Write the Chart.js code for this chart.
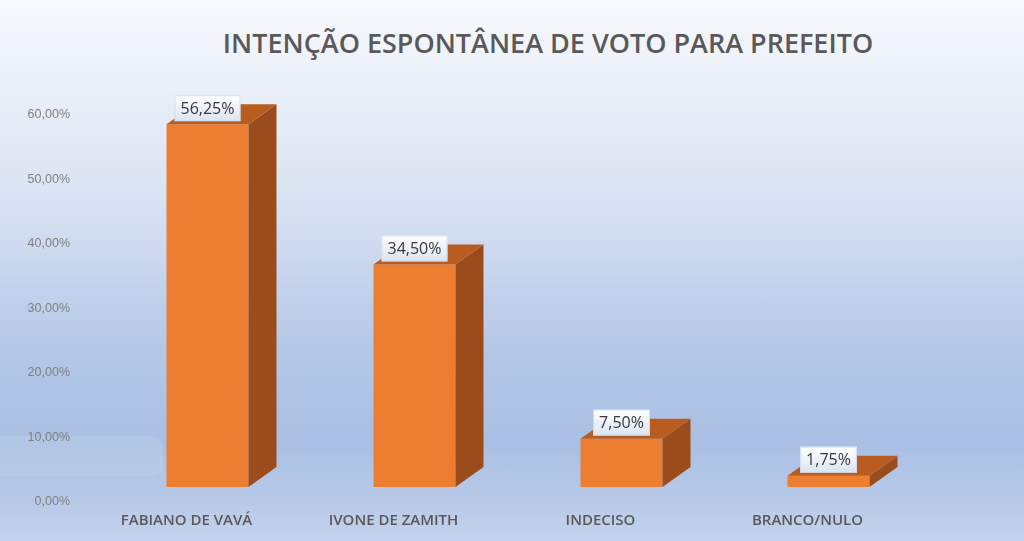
<!DOCTYPE html>
<html>
<head>
<meta charset="utf-8">
<script src="https://cdn.jsdelivr.net/npm/chart.js@4"></script>
<style>
  html, body { margin: 0; padding: 0; }
  #wrap {
    position: relative; width: 1024px; height: 541px; overflow: hidden;
    background: linear-gradient(to bottom, #f7f9fd 0%, #dbe4f3 35%, #b4c7e7 65%, #a9bfe3 82%, #c3d2ec 100%);
  }
  #title {
    position: absolute; left: 0; width: 1096px; top: 24px; text-align: center;
    font: 600 27px "Open Sans", sans-serif; color: #595959;
  }
  #ghost {
    position: absolute; left: 0; top: 436px; width: 163px; height: 40px;
    background: rgba(255,255,255,0.1); border-radius: 0 10px 10px 0;
  }
  canvas { position: absolute; left: 0; top: 0; }
</style>
</head>
<body>
<div id="wrap">
  <div id="ghost"></div>
  <div id="title">INTENÇÃO ESPONTÂNEA DE VOTO PARA PREFEITO</div>
  <canvas id="chart" width="1024" height="541"></canvas>
</div>
<script>
// chart values
const categories = ['FABIANO DE VAVÁ', 'IVONE DE ZAMITH', 'INDECISO', 'BRANCO/NULO'];
const votes = [56.25, 34.5, 7.5, 1.75];
const yTicks = [0, 10, 20, 30, 40, 50, 60];

const fmt = v => v.toFixed(2).replace('.', ',') + '%';

// draws the depth (side + top faces) and the value boxes
const bars3d = {
  id: 'bars3d',
  afterDatasetsDraw(chart) {
    const ctx = chart.ctx;
    const meta = chart.getDatasetMeta(0);
    const dx = 28, dy = -20;
    ctx.save();
    meta.data.forEach((bar, i) => {
      const half = bar.width / 2;
      const l = bar.x - half, r = bar.x + half, t = bar.y, b = bar.base;
      // side
      ctx.fillStyle = '#9b4c1c';
      ctx.beginPath();
      ctx.moveTo(r, t); ctx.lineTo(r + dx, t + dy); ctx.lineTo(r + dx, b + dy); ctx.lineTo(r, b);
      ctx.closePath(); ctx.fill();
      // top
      ctx.fillStyle = '#b95c20';
      ctx.beginPath();
      ctx.moveTo(l, t); ctx.lineTo(l + dx, t + dy); ctx.lineTo(r + dx, t + dy); ctx.lineTo(r, t);
      ctx.closePath(); ctx.fill();
    });
    // value labels
    ctx.font = '16px "Open Sans", sans-serif';
    ctx.textAlign = 'center';
    ctx.textBaseline = 'middle';
    meta.data.forEach((bar, i) => {
      const txt = fmt(votes[i]);
      const w = ctx.measureText(txt).width + 12, h = 26;
      const cx = bar.x, cy = bar.y - 16;
      const g = ctx.createLinearGradient(0, cy - h / 2, 0, cy + h / 2);
      g.addColorStop(0, '#ffffff');
      g.addColorStop(1, '#dbe4f3');
      ctx.fillStyle = g;
      ctx.fillRect(cx - w / 2, cy - h / 2, w, h);
      ctx.strokeStyle = 'rgba(205,216,236,0.8)';
      ctx.lineWidth = 1;
      ctx.strokeRect(cx - w / 2 + 0.5, cy - h / 2 + 0.5, w - 1, h - 1);
      ctx.fillStyle = '#383838';
      ctx.fillText(txt, cx, cy + 1);
    });
    ctx.restore();
  }
};

new Chart(document.getElementById('chart'), {
  type: 'bar',
  data: {
    labels: categories,
    datasets: [{
      data: votes,
      backgroundColor: '#ed7d31',
      barPercentage: 0.396,
      categoryPercentage: 1
    }]
  },
  options: {
    responsive: false,
    animation: false,
    layout: { padding: { top: 100, right: 92, left: 0, bottom: 0 } },
    plugins: { legend: { display: false }, tooltip: { enabled: false } },
    scales: {
      x: {
        grid: { display: false, drawTicks: false },
        border: { display: false },
        ticks: {
          color: '#595959', padding: 25, labelOffset: -21,
          font: { family: 'Open Sans', size: 15, weight: '600' }
        },
        afterFit: s => { s.height = 54; }
      },
      y: {
        min: 0, max: 60,
        grid: { display: false, drawTicks: false },
        border: { display: false },
        afterBuildTicks: s => { s.ticks = yTicks.map(v => ({ value: v })); },
        ticks: {
          color: '#7f7f7f', padding: 34, labelOffset: 15,
          font: { family: 'Liberation Sans', size: 12.5 },
          callback: v => fmt(v)
        },
        afterFit: s => { s.width = 104; }
      }
    }
  },
  plugins: [bars3d]
});
</script>
</body>
</html>
